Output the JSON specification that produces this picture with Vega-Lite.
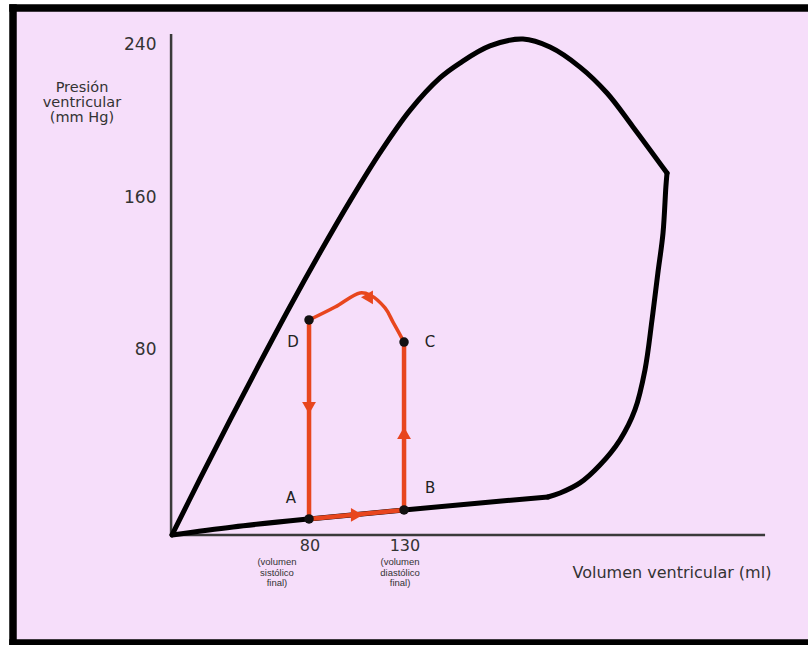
{
  "$schema": "https://vega.github.io/schema/vega-lite/v6.json",
  "width": 795,
  "height": 635,
  "autosize": {"type": "none"},
  "padding": {"left": 13, "top": 8, "right": 0, "bottom": 2},
  "background": "white",
  "view": {"fill": "#f6defa", "stroke": null},
  "datasets": {
    "border": [
      {"x": -76, "x2": 342.4, "y": 259.2, "y2": 259.2},
      {"x": -76, "x2": -76, "y": -74, "y2": 259.2},
      {"x": -76, "x2": 342.4, "y": -74, "y2": -74}
    ],
    "axes": [
      {"x": 7.2, "x2": 7.2, "y": -17.3, "y2": 245.6},
      {"x": 7.2, "x2": 319.8, "y": -17.3, "y2": -17.3}
    ],
    "loop": [
      {"seg": "a", "o": 1, "x": 7.7, "y": -17.3},
      {"seg": "a", "o": 2, "x": 22.4, "y": 12.1},
      {"seg": "a", "o": 3, "x": 38.2, "y": 42.9},
      {"seg": "a", "o": 4, "x": 54.0, "y": 73.1},
      {"seg": "a", "o": 5, "x": 69.8, "y": 102.6},
      {"seg": "a", "o": 6, "x": 85.6, "y": 130.9},
      {"seg": "a", "o": 7, "x": 101.4, "y": 158.0},
      {"seg": "a", "o": 8, "x": 117.1, "y": 183.2},
      {"seg": "a", "o": 9, "x": 132.9, "y": 205.5},
      {"seg": "a", "o": 10, "x": 148.7, "y": 222.5},
      {"seg": "a", "o": 11, "x": 159.2, "y": 230.3},
      {"seg": "a", "o": 12, "x": 175.0, "y": 239.3},
      {"seg": "a", "o": 13, "x": 192.4, "y": 242.9},
      {"seg": "a", "o": 14, "x": 206.6, "y": 238.7},
      {"seg": "a", "o": 15, "x": 222.4, "y": 228.2},
      {"seg": "a", "o": 16, "x": 236.6, "y": 214.6},
      {"seg": "a", "o": 17, "x": 250.3, "y": 196.8},
      {"seg": "a", "o": 18, "x": 268.2, "y": 172.6},
      {"seg": "b", "o": 18, "x": 268.2, "y": 172.6},
      {"seg": "b", "o": 19, "x": 267.6, "y": 165.3},
      {"seg": "b", "o": 20, "x": 266.1, "y": 141.1},
      {"seg": "b", "o": 21, "x": 263.4, "y": 120.2},
      {"seg": "b", "o": 22, "x": 260.3, "y": 95.5},
      {"seg": "b", "o": 23, "x": 256.6, "y": 69.3},
      {"seg": "b", "o": 24, "x": 251.3, "y": 48.3},
      {"seg": "b", "o": 25, "x": 243.4, "y": 32.5},
      {"seg": "b", "o": 26, "x": 232.9, "y": 19.4},
      {"seg": "b", "o": 27, "x": 222.4, "y": 10.0},
      {"seg": "b", "o": 28, "x": 211.9, "y": 4.7},
      {"seg": "b", "o": 29, "x": 205.5, "y": 2.6},
      {"seg": "c", "o": 29, "x": 205.5, "y": 2.6},
      {"seg": "c", "o": 30, "x": 169.8, "y": -0.5},
      {"seg": "c", "o": 31, "x": 129.8, "y": -4.2},
      {"seg": "c", "o": 32, "x": 79.8, "y": -8.9},
      {"seg": "c", "o": 33, "x": 39.8, "y": -13.1},
      {"seg": "c", "o": 34, "x": 7.7, "y": -17.3}
    ],
    "edges": [
      {"o": 1, "x": 79.8, "y": 95.5},
      {"o": 2, "x": 79.8, "y": -8.9},
      {"o": 3, "x": 129.8, "y": -4.2},
      {"o": 4, "x": 129.8, "y": 83.9}
    ],
    "arc": [
      {"o": 1, "x": 129.8, "y": 83.9},
      {"o": 2, "x": 124.0, "y": 94.4},
      {"o": 3, "x": 119.8, "y": 101.8},
      {"o": 4, "x": 111.9, "y": 108.6},
      {"o": 5, "x": 106.6, "y": 109.7},
      {"o": 6, "x": 93.5, "y": 102.3},
      {"o": 7, "x": 79.8, "y": 95.5}
    ],
    "arrows": [
      {"x": 79.8, "y": 49.3, "dir": "down"},
      {"x": 129.8, "y": 36.2, "dir": "up"},
      {"x": 105.0, "y": -6.8, "dir": "right"},
      {"x": 110.3, "y": 107.4, "dir": "left"}
    ],
    "points": [
      {"x": 79.8, "y": -8.9, "p": "A"},
      {"x": 129.8, "y": -4.2, "p": "B"},
      {"x": 129.8, "y": 83.9, "p": "C"},
      {"x": 79.8, "y": 95.5, "p": "D"}
    ],
    "letters": [
      {"x": 70.3, "y": 2.1, "t": "A"},
      {"x": 143.5, "y": 7.3, "t": "B"},
      {"x": 143.5, "y": 83.9, "t": "C"},
      {"x": 71.4, "y": 83.9, "t": "D"}
    ],
    "texts": [
      {"kind": "ytitle", "x": -39.7, "y": 217.2, "t": "Presión"},
      {"kind": "ytitle", "x": -39.7, "y": 209.3, "t": "ventricular"},
      {"kind": "ytitle", "x": -39.7, "y": 201.5, "t": "(mm Hg)"},
      {"kind": "xtitle", "x": 270.8, "y": -37.3, "t": "Volumen ventricular (ml)"},
      {"kind": "sub", "x": 62.9, "y": -31.5, "t": "(volumen\nsistólico\nfinal)"},
      {"kind": "sub", "x": 127.7, "y": -31.5, "t": "(volumen\ndiastólico\nfinal)"}
    ]
  },
  "encoding": {
    "x": {
      "field": "x", "type": "quantitative",
      "scale": {"domain": [-76, 342.4], "nice": false, "zero": false},
      "axis": {"values": [80, 130], "title": null, "domain": false, "ticks": false, "grid": false,
        "labelFont": "DejaVu Sans", "labelFontSize": 16, "labelColor": "#333333",
        "labelPadding": 2, "offset": -108, "labelFlush": false, "labelOverlap": false}
    },
    "y": {
      "field": "y", "type": "quantitative",
      "scale": {"domain": [-74, 259.2], "nice": false, "zero": false},
      "axis": {"values": [80, 160, 240], "title": null, "domain": false, "ticks": false, "grid": false,
        "labelFont": "DejaVu Sans", "labelFontSize": 17, "labelColor": "#333333",
        "labelPadding": 15, "offset": -158, "labelFlush": false, "labelOverlap": false}
    }
  },
  "layer": [
    {
      "data": {"name": "border"},
      "mark": {"type": "rule", "color": "black", "strokeWidth": 7.5, "strokeCap": "square"},
      "encoding": {"x2": {"field": "x2"}, "y2": {"field": "y2"}}
    },
    {
      "data": {"name": "axes"},
      "mark": {"type": "rule", "color": "#3a3a3a", "strokeWidth": 2.5},
      "encoding": {"x2": {"field": "x2"}, "y2": {"field": "y2"}}
    },
    {
      "data": {"name": "loop"},
      "mark": {"type": "line", "color": "black", "strokeWidth": 5, "strokeJoin": "round", "strokeCap": "round", "interpolate": "catmull-rom"},
      "encoding": {"detail": {"field": "seg", "type": "nominal"}, "order": {"field": "o", "type": "quantitative"}}
    },
    {
      "data": {"name": "edges"},
      "mark": {"type": "line", "color": "#e8461e", "strokeWidth": 4.5, "strokeJoin": "miter"},
      "encoding": {"order": {"field": "o", "type": "quantitative"}}
    },
    {
      "data": {"name": "arc"},
      "mark": {"type": "line", "color": "#e8461e", "strokeWidth": 3.5, "interpolate": "catmull-rom"},
      "encoding": {"order": {"field": "o", "type": "quantitative"}}
    },
    {
      "data": {"name": "arrows"},
      "mark": {"type": "point", "filled": true, "color": "#e8461e", "size": 190, "opacity": 1},
      "encoding": {
        "shape": {"field": "dir", "type": "nominal", "legend": null,
          "scale": {"domain": ["down", "up", "right", "left"], "range": ["triangle-down", "triangle-up", "triangle-right", "triangle-left"]}}
      }
    },
    {
      "data": {"name": "points"},
      "mark": {"type": "point", "filled": true, "color": "#111111", "size": 90, "opacity": 1}
    },
    {
      "data": {"name": "letters"},
      "mark": {"type": "text", "font": "DejaVu Sans", "fontSize": 15, "color": "#222222", "align": "center", "baseline": "middle"},
      "encoding": {"text": {"field": "t"}}
    },
    {
      "data": {"name": "texts"},
      "transform": [{"filter": "datum.kind === 'ytitle'"}],
      "mark": {"type": "text", "font": "DejaVu Sans", "fontSize": 14.5, "color": "#333333", "align": "center", "baseline": "middle"},
      "encoding": {"text": {"field": "t"}}
    },
    {
      "data": {"name": "texts"},
      "transform": [{"filter": "datum.kind === 'xtitle'"}],
      "mark": {"type": "text", "font": "DejaVu Sans", "fontSize": 16, "color": "#333333", "align": "center", "baseline": "middle"},
      "encoding": {"text": {"field": "t"}}
    },
    {
      "data": {"name": "texts"},
      "transform": [{"filter": "datum.kind === 'sub'"}],
      "mark": {"type": "text", "font": "Liberation Sans", "fontSize": 9.5, "lineHeight": 10.5, "lineBreak": "\n", "color": "#333333", "align": "center", "baseline": "middle"},
      "encoding": {"text": {"field": "t"}}
    }
  ]
}
